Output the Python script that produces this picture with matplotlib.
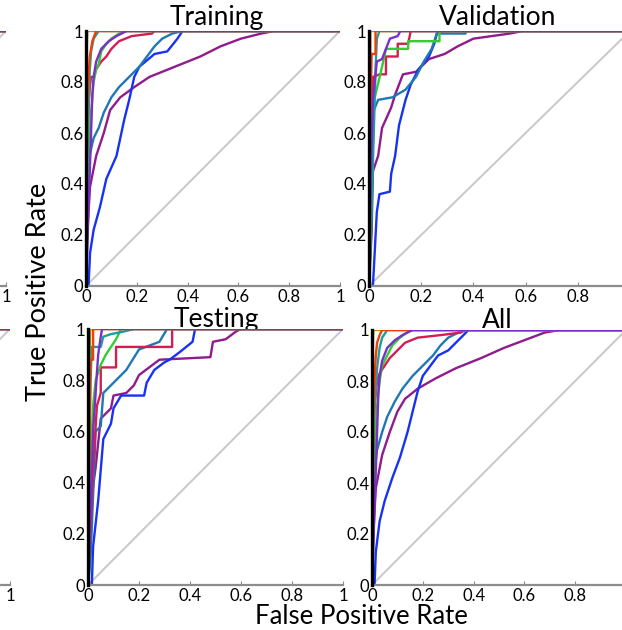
import matplotlib
matplotlib.use("Agg")
import matplotlib.pyplot as plt

# ---------------- data: ROC points (FPR, TPR) per class ----------------
CLASS_NAMES = ["magenta", "blue", "steel", "crimson", "green", "teal", "gold", "orange", "violet"]
COLORS = {
    "magenta": "#8E1C8C",
    "blue": "#1632F2",
    "steel": "#1F78B4",
    "crimson": "#D21E50",
    "green": "#33CC33",
    "teal": "#1AA0A0",
    "gold": "#B8900F",
    "orange": "#F0400A",
    "violet": "#7A2FC8",
}

training_fpr = {
    "magenta": [0, 0.005, 0.016, 0.04, 0.07, 0.095, 0.135, 0.19, 0.25, 0.35, 0.45, 0.53, 0.61, 0.69, 0.74, 1],
    "blue": [0.01, 0.016, 0.03, 0.055, 0.08, 0.12, 0.15, 0.17, 0.19, 0.21, 0.27, 0.32, 0.36, 0.38, 1],
    "steel": [0, 0.005, 0.01, 0.016, 0.03, 0.05, 0.07, 0.1, 0.13, 0.17, 0.21, 0.24, 0.27, 0.3, 0.34, 0.38, 1],
    "crimson": [0, 0.005, 0.01, 0.015, 0.02, 0.03, 0.04, 0.06, 0.08, 0.1, 0.13, 0.18, 0.26, 0.27, 1],
    "green": [0, 0.01, 0.02, 0.03, 0.04, 0.05, 0.06, 0.08, 0.1, 0.13, 0.16, 1],
    "teal": [0, 0.005, 0.01, 0.015, 0.02, 0.03, 0.05, 1],
    "gold": [0, 0, 0.005, 1],
    "orange": [0, 0.005, 0.01, 0.015, 0.025, 0.04, 1],
    "violet": [0, 0.01, 0.02, 0.025, 0.03, 0.04, 0.06, 0.09, 0.12, 0.16, 1],
}
training_tpr = {
    "magenta": [0, 0.21, 0.39, 0.51, 0.6, 0.69, 0.74, 0.78, 0.82, 0.86, 0.9, 0.94, 0.97, 0.99, 1, 1],
    "blue": [0, 0.13, 0.22, 0.31, 0.42, 0.51, 0.65, 0.73, 0.82, 0.86, 0.91, 0.92, 0.97, 1, 1],
    "steel": [0, 0.3, 0.45, 0.52, 0.58, 0.62, 0.68, 0.74, 0.78, 0.82, 0.86, 0.9, 0.94, 0.97, 0.99, 1, 1],
    "crimson": [0, 0.5, 0.7, 0.78, 0.82, 0.82, 0.85, 0.88, 0.9, 0.93, 0.96, 0.98, 0.99, 1, 1],
    "green": [0, 0.5, 0.68, 0.8, 0.85, 0.87, 0.92, 0.95, 0.97, 0.99, 1, 1],
    "teal": [0, 0.5, 0.7, 0.85, 0.92, 0.97, 1, 1],
    "gold": [0, 0.85, 1, 1],
    "orange": [0, 0.7, 0.82, 0.9, 0.96, 1, 1],
    "violet": [0, 0.3, 0.6, 0.75, 0.82, 0.88, 0.93, 0.96, 0.98, 1, 1],
}

validation_fpr = {
    "magenta": [0, 0.01, 0.015, 0.035, 0.05, 0.085, 0.1, 0.13, 0.18, 0.23, 0.29, 0.34, 0.4, 0.54, 0.59, 1],
    "blue": [0.015, 0.03, 0.04, 0.08, 0.085, 0.1, 0.115, 0.14, 0.16, 0.19, 0.23, 0.25, 0.26, 0.27, 1],
    "steel": [0, 0.01, 0.015, 0.035, 0.09, 0.14, 0.18, 0.21, 0.24, 0.26, 0.37, 0.37, 1],
    "crimson": [0, 0.01, 0.015, 0.04, 0.065, 0.065, 0.11, 0.11, 0.15, 0.16, 1],
    "green": [0, 0.01, 0.02, 0.05, 0.065, 0.15, 0.15, 0.27, 0.27, 1],
    "teal": [0, 0.01, 0.02, 0.025, 0.03, 0.04, 1],
    "gold": [0, 0.005, 0.005, 1],
    "orange": [0, 0.005, 0.01, 0.025, 0.025, 1],
    "violet": [0, 0.005, 0.015, 0.03, 0.05, 0.08, 0.11, 0.12, 1],
}
validation_tpr = {
    "magenta": [0, 0.21, 0.45, 0.51, 0.62, 0.7, 0.75, 0.83, 0.84, 0.89, 0.91, 0.94, 0.97, 0.99, 1, 1],
    "blue": [0, 0.29, 0.36, 0.37, 0.44, 0.51, 0.63, 0.73, 0.79, 0.85, 0.9, 0.95, 0.99, 1, 1],
    "steel": [0, 0.28, 0.68, 0.73, 0.74, 0.77, 0.82, 0.88, 0.93, 0.99, 0.99, 1, 1],
    "crimson": [0, 0.47, 0.82, 0.83, 0.83, 0.9, 0.9, 0.95, 0.95, 1, 1],
    "green": [0, 0.4, 0.73, 0.86, 0.93, 0.93, 0.96, 0.96, 1, 1],
    "teal": [0, 0.3, 0.66, 0.85, 0.97, 1, 1],
    "gold": [0, 0.6, 1, 1],
    "orange": [0, 0.65, 0.91, 0.91, 1, 1],
    "violet": [0, 0.35, 0.73, 0.88, 0.89, 0.97, 0.98, 1, 1],
}

testing_fpr = {
    "magenta": [0, 0.01, 0.03, 0.05, 0.09, 0.1, 0.15, 0.18, 0.2, 0.24, 0.28, 0.48, 0.49, 0.54, 0.58, 0.6, 1],
    "blue": [0.015, 0.02, 0.04, 0.06, 0.09, 0.1, 0.13, 0.22, 0.23, 0.26, 0.3, 0.32, 0.36, 0.41, 0.42, 1],
    "steel": [0, 0.01, 0.03, 0.05, 0.06, 0.1, 0.15, 0.2, 0.28, 0.31, 1],
    "crimson": [0, 0.02, 0.035, 0.05, 0.05, 0.11, 0.11, 0.33, 0.33, 1],
    "green": [0, 0.01, 0.02, 0.03, 0.05, 0.07, 0.09, 0.11, 0.13, 1],
    "teal": [0, 0.005, 0.01, 0.015, 0.05, 0.06, 0.09, 0.14, 0.18, 1],
    "gold": [0, 0.005, 0.008, 1],
    "orange": [0, 0.005, 0.01, 0.02, 0.02, 1],
    "violet": [0, 0.01, 0.02, 0.03, 0.035, 0.04, 0.05, 0.055, 1],
}
testing_tpr = {
    "magenta": [0, 0.31, 0.46, 0.65, 0.69, 0.74, 0.75, 0.78, 0.82, 0.85, 0.88, 0.89, 0.95, 0.96, 0.99, 1, 1],
    "blue": [0, 0.15, 0.33, 0.57, 0.63, 0.69, 0.74, 0.74, 0.79, 0.84, 0.87, 0.88, 0.91, 0.95, 1, 1],
    "steel": [0, 0.1, 0.6, 0.62, 0.75, 0.79, 0.84, 0.92, 0.95, 1, 1],
    "crimson": [0, 0.46, 0.7, 0.75, 0.85, 0.85, 0.93, 0.93, 1, 1],
    "green": [0, 0.5, 0.7, 0.8, 0.86, 0.9, 0.93, 0.96, 1, 1],
    "teal": [0, 0.5, 0.8, 0.93, 0.93, 0.97, 0.98, 0.99, 1, 1],
    "gold": [0, 0.6, 1, 1],
    "orange": [0, 0.5, 0.88, 0.88, 1, 1],
    "violet": [0, 0.3, 0.6, 0.75, 0.83, 0.9, 0.97, 1, 1],
}

all_fpr = {
    "magenta": [0, 0.005, 0.015, 0.04, 0.07, 0.1, 0.13, 0.18, 0.25, 0.33, 0.43, 0.52, 0.6, 0.68, 0.74, 1],
    "blue": [0.01, 0.015, 0.03, 0.05, 0.08, 0.11, 0.14, 0.16, 0.18, 0.2, 0.23, 0.26, 0.3, 0.34, 0.37, 0.38, 1],
    "steel": [0, 0.005, 0.01, 0.02, 0.04, 0.06, 0.09, 0.12, 0.16, 0.2, 0.24, 0.27, 0.3, 0.34, 0.38, 1],
    "crimson": [0, 0.005, 0.01, 0.02, 0.03, 0.05, 0.07, 0.1, 0.13, 0.18, 0.27, 0.35, 0.36, 1],
    "green": [0, 0.01, 0.02, 0.03, 0.04, 0.06, 0.08, 0.11, 0.15, 1],
    "teal": [0, 0.005, 0.01, 0.02, 0.03, 0.04, 0.06, 1],
    "gold": [0, 0, 0.005, 1],
    "orange": [0, 0.005, 0.01, 0.015, 0.02, 0.03, 0.04, 1],
    "violet": [0, 0.01, 0.02, 0.025, 0.03, 0.04, 0.06, 0.09, 0.12, 0.16, 1],
}
all_tpr = {
    "magenta": [0, 0.2, 0.38, 0.51, 0.6, 0.68, 0.73, 0.77, 0.81, 0.85, 0.89, 0.93, 0.96, 0.99, 1, 1],
    "blue": [0, 0.13, 0.25, 0.33, 0.42, 0.5, 0.6, 0.68, 0.76, 0.82, 0.86, 0.9, 0.92, 0.96, 0.99, 1, 1],
    "steel": [0, 0.3, 0.45, 0.53, 0.6, 0.66, 0.72, 0.77, 0.82, 0.86, 0.9, 0.94, 0.97, 0.99, 1, 1],
    "crimson": [0, 0.5, 0.7, 0.8, 0.83, 0.86, 0.89, 0.92, 0.95, 0.97, 0.98, 0.99, 1, 1],
    "green": [0, 0.5, 0.7, 0.8, 0.86, 0.9, 0.94, 0.97, 1, 1],
    "teal": [0, 0.5, 0.7, 0.85, 0.93, 0.97, 1, 1],
    "gold": [0, 0.85, 1, 1],
    "orange": [0, 0.65, 0.8, 0.9, 0.95, 0.98, 1, 1],
    "violet": [0, 0.3, 0.6, 0.75, 0.82, 0.88, 0.93, 0.96, 0.98, 1, 1],
}

TICKS = [0, 0.2, 0.4, 0.6, 0.8, 1]
TICK_LABELS = ["0", "0.2", "0.4", "0.6", "0.8", "1"]

# ---------------- figure ----------------
W, H = 622, 630
plt.rcParams["font.family"] = ["Lato", "DejaVu Sans"]
fig = plt.figure(figsize=(W / 100, H / 100), dpi=100)
fig.patch.set_facecolor("white")


def px_axes(x0, y0, x1, y1):
    """axes from pixel box (y measured from top)"""
    return fig.add_axes([x0 / W, 1 - y1 / H, (x1 - x0) / W, (y1 - y0) / H])


def roc_panel(ax, fpr, tpr, xlabels=TICK_LABELS, ylabels=TICK_LABELS):
    ax.plot([0, 1], [0, 1], color="#C8C8C8", lw=1.4, zorder=1)
    for name in CLASS_NAMES:
        ax.plot(fpr[name], tpr[name], color=COLORS[name], lw=1.7, zorder=2)
    ax.set_xlim(0, 1)
    ax.set_ylim(0, 1)
    ax.set_xticks(TICKS)
    ax.set_xticklabels(xlabels)
    ax.set_yticks(TICKS)
    ax.set_yticklabels(ylabels)
    ax.spines["top"].set_visible(False)
    ax.spines["right"].set_visible(False)
    ax.spines["left"].set_color("black")
    ax.spines["left"].set_linewidth(2.4)
    ax.spines["left"].set_zorder(5)
    ax.spines["bottom"].set_color("#8C8C8C")
    ax.spines["bottom"].set_linewidth(1.6)
    ax.tick_params(axis="x", direction="in", length=3, color="#8C8C8C",
                   labelsize=12, pad=2)
    ax.tick_params(axis="y", direction="in", length=0, labelsize=12, pad=2)


# neighbouring panels only partly visible on the left edge: only their "1" shows
edge_labels = [""] * 5 + TICK_LABELS[-1:]
no_labels = [""] * 6
roc_panel(px_axes(-248, 31, 6, 286), training_fpr, training_tpr, edge_labels, no_labels)
roc_panel(px_axes(-245, 329, 10, 585), testing_fpr, testing_tpr, edge_labels, no_labels)

# right column runs past the figure edge, its last x label is not shown
cut_labels = TICK_LABELS[:-1] + [""]
roc_panel(px_axes(86, 31, 340, 286), training_fpr, training_tpr)
roc_panel(px_axes(369, 31, 630, 286), validation_fpr, validation_tpr, cut_labels)
roc_panel(px_axes(88, 329, 343, 585), testing_fpr, testing_tpr)
roc_panel(px_axes(372, 330, 626, 585), all_fpr, all_tpr, cut_labels)

# titles sit behind the axes so the descenders get cut like in the source
title_kw = dict(fontsize=19, ha="center", va="baseline", zorder=-1)
fig.text(217 / W, 1 - 25 / H, "Training", **title_kw)
fig.text(498 / W, 1 - 25 / H, "Validation", **title_kw)
fig.text(216 / W, 1 - 327 / H, "Testing", **title_kw)
fig.text(497 / W, 1 - 328 / H, "All", **title_kw)

fig.text(361 / W, 1 - 624 / H, "False Positive Rate", fontsize=18.5,
         ha="center", va="baseline")
fig.text(39 / W, 1 - 292 / H, "True Positive Rate", fontsize=19.5,
         ha="center", va="center", rotation=90)

fig.savefig("out.png", dpi=100, facecolor="white")
